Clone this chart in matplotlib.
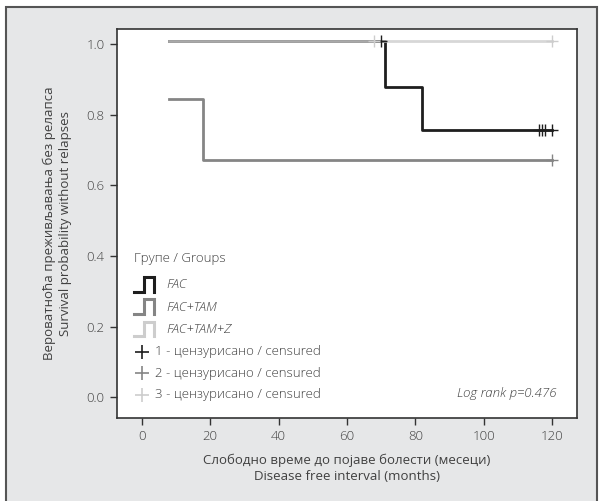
import matplotlib
matplotlib.use("Agg")
import matplotlib.pyplot as plt
from matplotlib.patches import Rectangle

plt.rcParams['font.family'] = ['Open Sans', 'DejaVu Sans']
plt.rcParams['font.weight'] = 'light'

# Kaplan-Meier curves (months, survival probability)
fac_t = [8, 71, 71, 82, 82, 120]
fac_s = [1.01, 1.01, 0.88, 0.88, 0.757, 0.757]
fac_cens_t = [70, 116.2, 117.1, 118, 120]
fac_cens_s = [1.01, 0.757, 0.757, 0.757, 0.757]

tam_t = [8, 18, 18, 120]
tam_s = [0.845, 0.845, 0.672, 0.672]
tam_cens_t = [120]
tam_cens_s = [0.672]

z_t = [8, 120]
z_s = [1.01, 1.01]
z_cens_t = [68, 120]
z_cens_s = [1.01, 1.01]

group_names = ["FAC", "FAC+TAM", "FAC+TAM+Z"]
cens_labels = ["1 - цензурисано / censured", "2 - цензурисано / censured",
               "3 - цензурисано / censured"]
colors = ["#1e1e1e", "#858585", "#cdcdcd"]

x_ticks = [0, 20, 40, 60, 80, 100, 120]
y_ticks = [0.0, 0.2, 0.4, 0.6, 0.8, 1.0]

txt = "#404040"
fs = 9.5

fig = plt.figure(figsize=(6.03, 5.01), dpi=100)
fig.patch.set_facecolor("white")
fig.add_artist(Rectangle((6 / 603, -0.05), 591 / 603, 1.05 - 7 / 501,
                         transform=fig.transFigure, facecolor="#e6e7e8",
                         edgecolor="#555555", linewidth=1.5, zorder=-10))

ax = fig.add_axes([117 / 603, 1 - 418 / 501, 460 / 603, 389 / 501])
ax.set_facecolor("white")

ax.plot(fac_t, fac_s, color=colors[0], lw=2.0, zorder=3)
ax.plot(tam_t, tam_s, color=colors[1], lw=2.0, zorder=3)
ax.plot(z_t, z_s, color=colors[2], lw=2.0, alpha=0.8, zorder=4)

ax.plot(fac_cens_t, fac_cens_s, ls="none", marker="+", ms=8, mew=1.0, color=colors[0], zorder=5)
ax.plot(tam_cens_t, tam_cens_s, ls="none", marker="+", ms=8, mew=1.0, color=colors[1], zorder=5)
ax.plot(z_cens_t, z_cens_s, ls="none", marker="+", ms=8, mew=1.0, color=colors[2], zorder=5)

ax.set_xlim(-7.3, 127.3)
ax.set_ylim(-0.059, 1.043)
ax.set_xticks(x_ticks)
ax.set_yticks(y_ticks)
ax.set_yticklabels([f"{v:.1f}" for v in y_ticks])
ax.tick_params(length=5, width=1, color="#333333", labelcolor=txt, labelsize=fs, pad=4)
for sp in ax.spines.values():
    sp.set_color("#333333")
    sp.set_linewidth(1.2)

ax.set_xlabel("Слободно време до појаве болести (месеци)\nDisease free interval (months)",
              color=txt, fontsize=fs, labelpad=7, linespacing=1.3)
ax.set_ylabel("Вероватноћа преживљавања без релапса\nSurvival probability without relapses",
              color=txt, fontsize=fs, labelpad=10, linespacing=1.3)

# legend drawn by hand
tr = ax.transAxes
ax.text(0.038, 0.41, "Групе / Groups", transform=tr, color=txt, fontsize=fs, va="center")
for i, (name, c) in enumerate(zip(group_names, colors)):
    y = 0.342 - i * 0.057
    ax.plot([0.037, 0.058, 0.058, 0.080, 0.080], [y - 0.017, y - 0.017, y + 0.02, y + 0.02, y - 0.017],
            transform=tr, color=c, lw=2.2, solid_joinstyle="miter", clip_on=False)
    ax.text(0.108, y, name, transform=tr, color=txt, fontsize=fs, style="italic", va="center")
for i, (lab, c) in enumerate(zip(cens_labels, colors)):
    y = 0.17 - i * 0.055
    ax.plot([0.054], [y], transform=tr, marker="+", ms=10, mew=1.2, color=c, ls="none")
    ax.text(0.083, y, lab, transform=tr, color=txt, fontsize=fs, va="center")

ax.text(0.955, 0.062, "Log rank p=0.476", transform=tr, color=txt, fontsize=fs,
        style="italic", ha="right", va="center")

fig.savefig("out.png", dpi=100)
